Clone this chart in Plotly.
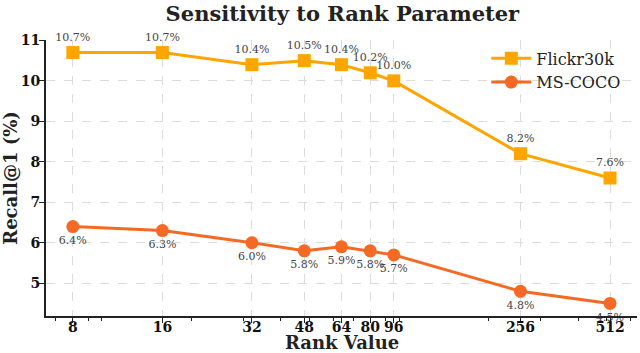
import plotly.graph_objects as go

ranks = [8, 16, 32, 48, 64, 80, 96, 256, 512]
flickr = [10.7, 10.7, 10.4, 10.5, 10.4, 10.2, 10.0, 8.2, 7.6]
coco = [6.4, 6.3, 6.0, 5.8, 5.9, 5.8, 5.7, 4.8, 4.5]
y_ticks = [5, 6, 7, 8, 9, 10, 11]
minor_x = [7, 9, 10, 20, 30, 40, 50, 60, 70, 90, 100, 200, 300, 400, 500, 600]

COLORS = {"flickr": "#FFA500", "coco": "#F46A25"}
SERIF = "DejaVu Serif"

fig = go.Figure()

fig.add_trace(go.Scatter(
    x=ranks, y=flickr, name="Flickr30k",
    mode="lines+markers+text",
    line=dict(color=COLORS["flickr"], width=3),
    marker=dict(symbol="square", size=13, color=COLORS["flickr"]),
    text=[f"{v:.1f}%" for v in flickr],
    textposition="top center",
    textfont=dict(family=SERIF, size=11, color="#444444"),
    cliponaxis=False,
))
fig.add_trace(go.Scatter(
    x=ranks, y=coco, name="MS-COCO",
    mode="lines+markers+text",
    line=dict(color=COLORS["coco"], width=3),
    marker=dict(symbol="circle", size=13, color=COLORS["coco"]),
    text=[f"{v:.1f}%" for v in coco],
    textposition="bottom center",
    textfont=dict(family=SERIF, size=11, color="#444444"),
    cliponaxis=False,
))

grid = dict(showgrid=True, gridcolor="#dcdcdc", griddash="dash", gridwidth=1)

# x-axis title as an annotation so it sits just under the tick labels
fig.add_annotation(
    text="<b>Rank Value</b>", xref="paper", yref="paper", x=0.5, y=-0.097,
    xanchor="center", yanchor="middle", showarrow=False,
    font=dict(family=SERIF, size=18, color="#222222"),
)

fig.update_layout(
    width=640, height=353,
    margin=dict(l=46, r=3, t=40, b=37),
    paper_bgcolor="white", plot_bgcolor="white",
    font=dict(family=SERIF, color="#222222"),
    title=dict(text="<b>Sensitivity to Rank Parameter</b>", x=0.535, xanchor="center",
               y=0.982, yanchor="top", font=dict(family=SERIF, size=21, color="#222222")),
    xaxis=dict(
        type="log", range=[0.8128, 2.800], automargin=False,
        tickvals=ranks, ticktext=[f"<b>{r}</b>" for r in ranks],
        tickfont=dict(family=SERIF, size=14, color="#111111"),
        ticks="outside", ticklen=5, tickwidth=1.2, tickcolor="#222222",
        ticklabelstandoff=-8,
        minor=dict(tickvals=minor_x, ticks="outside", ticklen=3, tickcolor="#222222", showgrid=False),
        showline=True, linecolor="#222222", linewidth=2,
        zeroline=False, **grid,
    ),
    yaxis=dict(
        range=[4.19, 11.01], automargin=False,
        tickvals=y_ticks, ticktext=[f"<b>{v}</b>" for v in y_ticks],
        tickfont=dict(family=SERIF, size=14, color="#111111"),
        ticks="outside", ticklen=5, tickwidth=1.2, tickcolor="#222222",
        ticklabelstandoff=-4,
        showline=True, linecolor="#222222", linewidth=2,
        title=dict(text="<b>Recall@1 (%)</b>", font=dict(family=SERIF, size=18), standoff=2),
        zeroline=False, **grid,
    ),
    legend=dict(x=0.745, y=0.995, xanchor="left", yanchor="top",
                bgcolor="rgba(0,0,0,0)", font=dict(family=SERIF, size=16, color="#222222"),
                itemwidth=40),
)

# drop the default 8px page margin so the figure sits at the window's corner
fig.write_html("out.html", config={"displayModeBar": False},
               post_script="document.body.style.margin='0';")
